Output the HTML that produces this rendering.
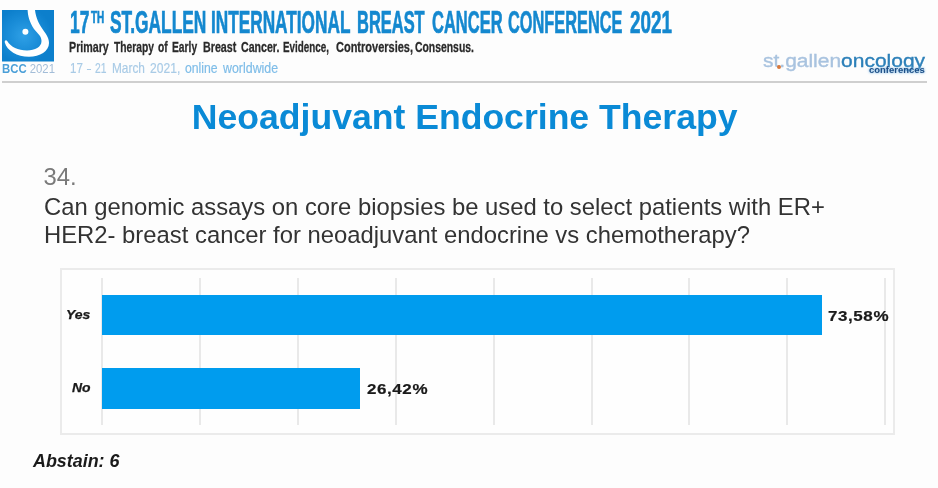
<!DOCTYPE html>
<html>
<head>
<meta charset="utf-8">
<style>
  html, body { margin: 0; padding: 0; }
  body { width: 938px; height: 488px; overflow: hidden; background: #fdfdfd; position: relative;
         font-family: "Liberation Sans", sans-serif; }
  #wrap { position: absolute; left: 0; top: 0; width: 938px; height: 488px; filter: blur(0.55px); }
  .abs { position: absolute; white-space: nowrap; line-height: 1; transform-origin: 0 0; }
  #logo { position: absolute; left: 2.2px; top: 10.2px; width: 52px; height: 51.5px; }
  #bcc { left: 2.3px; top: 63.2px; font-size: 12.4px; color: #a3bdd8; transform: scaleX(0.915); }
  #bcc b { color: #4a9fd8; }
  .h1w { font-size: 30.6px; font-weight: bold; color: #1488cf; -webkit-text-stroke: 0.7px #1488cf; }
    .h2w { top: 38.7px; font-size: 15.5px; font-weight: bold; color: #2a2a2a; -webkit-text-stroke: 0.3px #2a2a2a; }
  .h3w { top: 60px; font-size: 15px; color: #a9cbe6; -webkit-text-stroke: 0.2px; }
  .h3b { color: #7fbde8; }
  #rule { position: absolute; left: 2px; top: 81px; width: 925px; height: 2px; background: #cfcfcf; }
  #sg { left: 763px; top: 51.5px; font-size: 18px; color: #a9c3df; transform: scaleX(1.165); -webkit-text-stroke: 0.35px; }
  #sg span { color: #2d80b9; }
  #conf { left: 868.5px; top: 65.5px; font-size: 9px; font-weight: bold; color: #1f4f86; transform: scaleX(1.05); text-shadow: 0 0 2px #8fc0e6, 0 0 3px #8fc0e6; }
  #dot { position: absolute; left: 777px; top: 65px; width: 4px; height: 4px; border-radius: 50%; background: #d9783a; }
  #title { left: 191.8px; top: 99.6px; font-size: 35.6px; font-weight: bold; color: #0a8ad6; }
  #q0 { left: 43.6px; top: 165.4px; font-size: 23.83px; color: #7a7a7a; }
  #q1 { left: 44px; top: 194.5px; font-size: 23.83px; color: #333; }
  #q2 { left: 44px; top: 223.3px; font-size: 23.83px; color: #333; }
  #chart { position: absolute; left: 59.7px; top: 267.8px; width: 835.6px; height: 167.6px; border: 2px solid #ebebeb; box-sizing: border-box; background: #fefefe; }
  .grid { position: absolute; top: 278px; width: 2px; height: 147.4px; background: #e9e9e9; }
  .bar { position: absolute; left: 102px; background: #009cee; }
  .lbl { font-size: 12px; font-weight: bold; font-style: italic; color: #1a1a1a; transform: scaleX(1.16); -webkit-text-stroke: 0.25px; }
  .pct { font-size: 14.5px; font-weight: bold; color: #1a1a1a; transform: scaleX(1.17); letter-spacing: 0.5px; -webkit-text-stroke: 0.2px; }
  #abst { left: 33px; top: 452.6px; font-size: 17.9px; font-weight: bold; font-style: italic; color: #1a1a1a; }
</style>
</head>
<body>
<div id="wrap">
<svg id="logo" viewBox="0 0 52 51.5">
  <defs><radialGradient id="lg" cx="0.42" cy="0.5" r="0.55">
    <stop offset="0" stop-color="#2fa0e6"/><stop offset="0.55" stop-color="#1a8dd8"/><stop offset="1" stop-color="#0c7fcc"/>
  </radialGradient></defs>
  <rect x="0" y="0" width="52" height="51.5" fill="url(#lg)"/>
  <path d="M25.6 0 C26 6 27 11 32 19 C36 24 39.5 26 39.5 31 C39.5 37 33 40.5 25 40.5 C16 40.5 9 37 5.2 31 C4.2 29.6 2.4 30.4 2.8 32.4 C5 40.5 15 46.8 27 46.8 C38 46.8 47 41 47 33 C47 27 43 23 40.5 19 C37 14 34 8 33 0 Z" fill="#ffffff"/>
  <circle cx="23.4" cy="21.8" r="3" fill="#ffffff"/>
</svg>
<div id="bcc" class="abs"><b>BCC</b> 2021</div>
<div class="abs h1w" style="left:70.32px;top:7.0px;transform:scaleX(0.5698)">17</div>
<div class="abs h1w" style="left:91.41px;top:9.8px;font-size:15.8px;transform:scaleX(0.628)">TH</div>
<div class="abs h1w" style="left:110.0px;top:7.0px;transform:scaleX(0.5670)">ST.GALLEN</div>
<div class="abs h1w" style="left:211.03px;top:7.0px;transform:scaleX(0.5631)">INTERNATIONAL</div>
<div class="abs h1w" style="left:357.35px;top:7.0px;transform:scaleX(0.5380)">BREAST</div>
<div class="abs h1w" style="left:431.6px;top:7.0px;transform:scaleX(0.5392)">CANCER</div>
<div class="abs h1w" style="left:507.6px;top:7.0px;transform:scaleX(0.5341)">CONFERENCE</div>
<div class="abs h1w" style="left:629.7px;top:7.0px;transform:scaleX(0.6161)">2021</div>
<div class="abs h2w" style="left:69.10px;transform:scaleX(0.6894)">Primary</div>
<div class="abs h2w" style="left:113.90px;transform:scaleX(0.6622)">Therapy</div>
<div class="abs h2w" style="left:158.30px;transform:scaleX(0.6596)">of</div>
<div class="abs h2w" style="left:172.30px;transform:scaleX(0.6630)">Early</div>
<div class="abs h2w" style="left:202.70px;transform:scaleX(0.6912)">Breast</div>
<div class="abs h2w" style="left:240.60px;transform:scaleX(0.6848)">Cancer.</div>
<div class="abs h2w" style="left:282.80px;transform:scaleX(0.6346)">Evidence,</div>
<div class="abs h2w" style="left:335.90px;transform:scaleX(0.7093)">Controversies,</div>
<div class="abs h2w" style="left:415.20px;transform:scaleX(0.6706)">Consensus.</div>
<div class="abs h3w" style="left:69.83px;transform:scaleX(0.7733)">17</div>
<div class="abs h3w" style="left:87.3px;transform:scaleX(0.4778)">–</div>
<div class="abs h3w" style="left:95.0px;transform:scaleX(0.6875)">21</div>
<div class="abs h3w" style="left:112.0px;transform:scaleX(0.7902)">March</div>
<div class="abs h3w" style="left:149.6px;transform:scaleX(0.8054)">2021,</div>
<div class="abs h3w h3b" style="left:184.5px;transform:scaleX(0.815)">online</div>
<div class="abs h3w h3b" style="left:223.0px;transform:scaleX(0.8273)">worldwide</div>
<div id="rule"></div>
<div id="sg" class="abs">st.gallen<span>oncology</span></div>
<div id="conf" class="abs">conferences</div>
<div id="dot"></div>

<div id="title" class="abs">Neoadjuvant Endocrine Therapy</div>
<div id="q0" class="abs">34.</div>
<div id="q1" class="abs">Can genomic assays on core biopsies be used to select patients with ER+</div>
<div id="q2" class="abs">HER2- breast cancer for neoadjuvant endocrine vs chemotherapy?</div>

<div id="chart"></div>
<div class="grid" style="left:101.0px"></div>
<div class="grid" style="left:198.9px"></div>
<div class="grid" style="left:296.8px"></div>
<div class="grid" style="left:394.7px"></div>
<div class="grid" style="left:492.6px"></div>
<div class="grid" style="left:590.5px"></div>
<div class="grid" style="left:688.3px"></div>
<div class="grid" style="left:786.2px"></div>
<div class="grid" style="left:884.1px"></div>
<div class="bar" style="top:294.5px;width:719.6px;height:40.7px"></div>
<div class="bar" style="top:367.8px;width:258.2px;height:41.4px"></div>
<div class="abs lbl" style="left:65.7px;top:309px">Yes</div>
<div class="abs lbl" style="left:71.5px;top:382px">No</div>
<div class="abs pct" style="left:828px;top:308.5px">73,58%</div>
<div class="abs pct" style="left:367px;top:381.8px">26,42%</div>
<div id="abst" class="abs">Abstain: 6</div>
</div>
</body>
</html>
